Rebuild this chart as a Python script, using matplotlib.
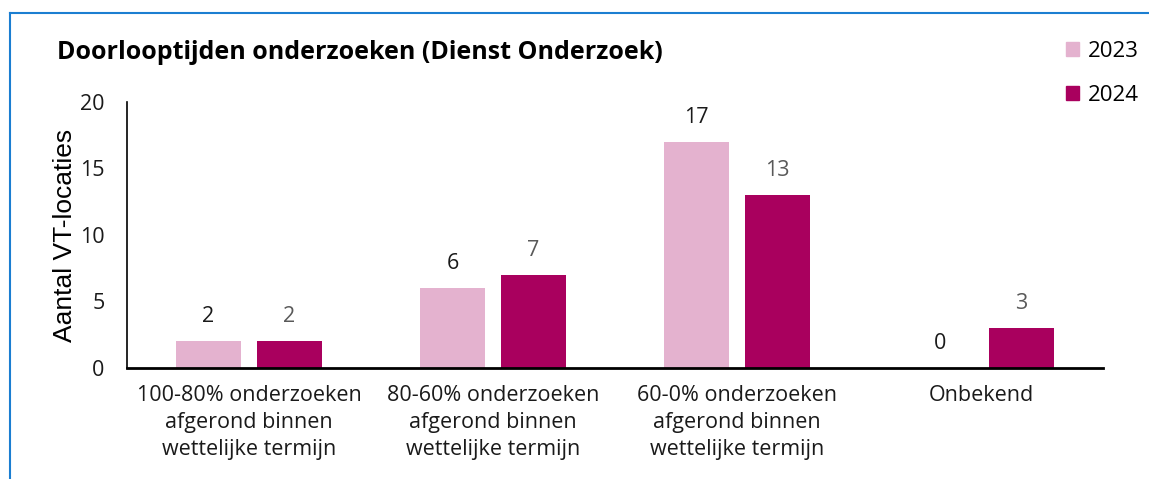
import numpy as np
import matplotlib.pyplot as plt
from matplotlib.patches import Patch
from matplotlib.lines import Line2D

categories = ['100-80% onderzoeken\nafgerond binnen\nwettelijke termijn',
              '80-60% onderzoeken\nafgerond binnen\nwettelijke termijn',
              '60-0% onderzoeken\nafgerond binnen\nwettelijke termijn',
              'Onbekend']
years = ['2023', '2024']
values_2023 = [2, 6, 17, 0]
values_2024 = [2, 7, 13, 3]

col_2023 = '#E4B2CF'
col_2024 = '#A9005E'
font = 'Open Sans'

fig = plt.figure(figsize=(11.49, 4.79), dpi=100)
ax = fig.add_axes([0.1105, 0.232, 0.8495, 0.555])

x = np.arange(len(categories))
w = 0.266
off = 0.166
b1 = ax.bar(x - off, values_2023, w, color=col_2023, label=years[0])
b2 = ax.bar(x + off, values_2024, w, color=col_2024, label=years[1])

for rect, v in zip(b1, values_2023):
    ax.annotate(str(v), (rect.get_x() + rect.get_width() / 2, v),
                xytext=(0, 10), textcoords='offset points', ha='center', va='bottom',
                fontsize=15.5, family=font, color='#1a1a1a')
for rect, v in zip(b2, values_2024):
    ax.annotate(str(v), (rect.get_x() + rect.get_width() / 2, v),
                xytext=(0, 10), textcoords='offset points', ha='center', va='bottom',
                fontsize=15.5, family=font, color='#595959')

ax.set_xlim(-0.5, 3.5)
ax.set_ylim(0, 20)
ax.set_yticks([0, 5, 10, 15, 20])
ax.set_xticks(x)
ax.set_xticklabels(categories, family=font, fontsize=15.5, color='#1a1a1a',
                   linespacing=1.38)
for lbl in ax.get_yticklabels():
    lbl.set_family(font)
    lbl.set_fontsize(15.5)
    lbl.set_color('#1a1a1a')
ax.tick_params(length=0, pad=16)
ax.tick_params(axis='x', pad=12)
ax.spines['top'].set_visible(False)
ax.spines['right'].set_visible(False)
ax.spines['left'].set_linewidth(1.2)
ax.spines['bottom'].set_linewidth(2)
ax.set_ylabel('Aantal VT-locaties', family='Liberation Sans', fontsize=19,
              labelpad=2)

fig.text(0.05, 0.89, 'Doorlooptijden onderzoeken (Dienst Onderzoek)',
         family=font, fontsize=18, fontweight='bold', va='center', ha='left')

handles = [Patch(color=col_2023), Patch(color=col_2024)]
fig.legend(handles, years, loc='upper right', bbox_to_anchor=(1.009, 0.957),
           frameon=False, prop={'family': font, 'size': 16},
           handlelength=0.6, handleheight=0.6, handletextpad=0.4,
           labelspacing=1.05)

# blue frame around the chart
fig.add_artist(Line2D([0.009, 0.009], [0, 0.973], color='#1B7ED1', lw=1.5))
fig.add_artist(Line2D([0.009, 1.0], [0.973, 0.973], color='#1B7ED1', lw=1.5))

fig.savefig('out.png', dpi=100)
